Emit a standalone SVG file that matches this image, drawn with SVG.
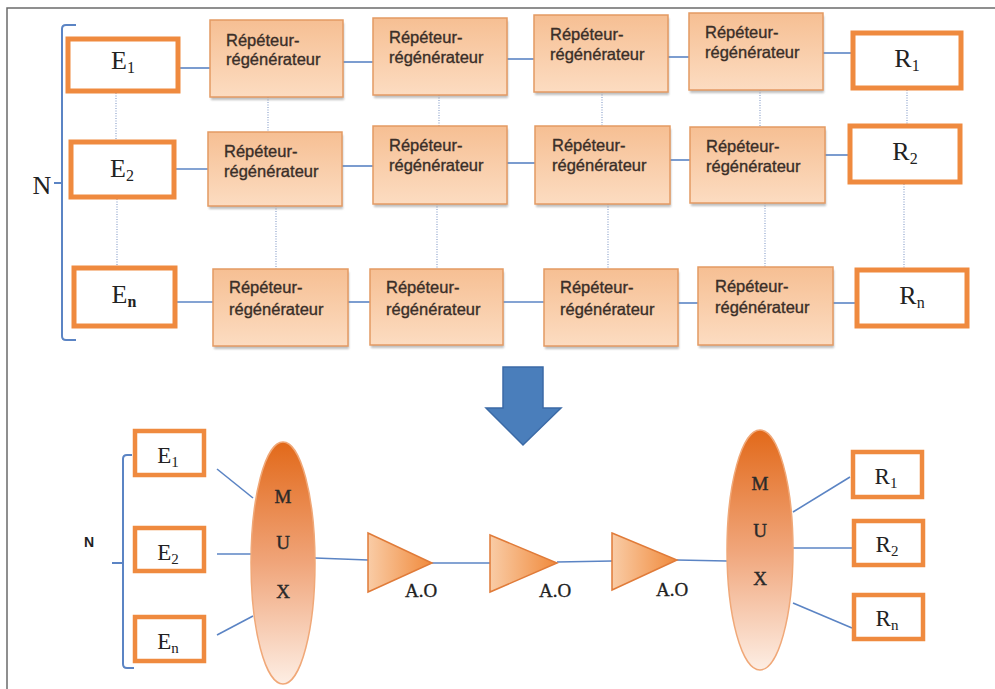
<svg xmlns="http://www.w3.org/2000/svg" width="995" height="689" viewBox="0 0 995 689">
<defs>
<linearGradient id="rg" x1="0" y1="0" x2="0" y2="1"><stop offset="0" stop-color="#f6bf93"/><stop offset="1" stop-color="#fcdcc1"/></linearGradient>
<linearGradient id="mg" x1="0" y1="0" x2="0" y2="1"><stop offset="0" stop-color="#e2691a"/><stop offset="0.5" stop-color="#f0a57a"/><stop offset="1" stop-color="#fdeee4"/></linearGradient>
<linearGradient id="tg" x1="0" y1="0" x2="1" y2="0"><stop offset="0" stop-color="#f9cca6"/><stop offset="1" stop-color="#f08a3c"/></linearGradient>
<filter id="sh" x="-10%" y="-10%" width="130%" height="130%"><feGaussianBlur stdDeviation="1.2"/></filter>
<style>
.rr{fill:url(#rg);stroke:#e49a63;stroke-width:1.5}
.rs{fill:#8a8a8a;opacity:0.55;filter:url(#sh)}
.rt{font-family:"Liberation Sans",Arial,sans-serif;font-size:16.5px;fill:#3a2e28;stroke:#3a2e28;stroke-width:0.35}
.box{fill:#fff;stroke:#ef8a3f;stroke-width:5}
.sbox{fill:#fff;stroke:#ef8a3f;stroke-width:4.5}
.lt{font-family:"Liberation Serif","Times New Roman",serif;font-size:26px;fill:#222;text-anchor:middle}
.slt{font-family:"Liberation Serif","Times New Roman",serif;font-size:23px;fill:#222;text-anchor:middle}
.mx{font-family:"Liberation Serif","Times New Roman",serif;font-size:19px;fill:#2a2a2a;stroke:#2a2a2a;stroke-width:0.4;text-anchor:middle}
.ao{font-family:"Liberation Serif","Times New Roman",serif;font-size:19px;fill:#222;stroke:#222;stroke-width:0.3}
.ln{stroke:#5b84c4;stroke-width:1.6;fill:none}
.dt{stroke:#8ea3cc;stroke-width:1.2;stroke-dasharray:1 1.5;fill:none}
.br{stroke:#5b84c4;stroke-width:2;fill:none}
.tri{fill:url(#tg);stroke:#e07b39;stroke-width:1.5}
</style>
</defs>
<rect x="0" y="0" width="995" height="689" fill="#fff"/>
<path d="M7,689 V8 H995" fill="none" stroke="#6b6b6b" stroke-width="1.5"/>

<g id="connectors">
<line class="ln" x1="180" y1="68" x2="210" y2="68"/>
<line class="ln" x1="343" y1="62" x2="373" y2="62"/>
<line class="ln" x1="507" y1="59" x2="534" y2="59"/>
<line class="ln" x1="668" y1="57" x2="689" y2="57"/>
<line class="ln" x1="823" y1="53" x2="851" y2="53"/>
<line class="ln" x1="175" y1="169" x2="208" y2="169"/>
<line class="ln" x1="342" y1="166" x2="373" y2="166"/>
<line class="ln" x1="507" y1="163" x2="535" y2="163"/>
<line class="ln" x1="670" y1="160" x2="690" y2="160"/>
<line class="ln" x1="825" y1="155" x2="848" y2="155"/>
<line class="ln" x1="177" y1="302" x2="213" y2="302"/>
<line class="ln" x1="348" y1="302" x2="370" y2="302"/>
<line class="ln" x1="503" y1="302" x2="544" y2="302"/>
<line class="ln" x1="678" y1="303" x2="698" y2="303"/>
<line class="ln" x1="833" y1="303" x2="855" y2="303"/>
<line class="dt" x1="116" y1="93" x2="116" y2="140"/>
<line class="dt" x1="117" y1="199" x2="117" y2="266"/>
<line class="dt" x1="268" y1="97" x2="268" y2="132"/>
<line class="dt" x1="276" y1="206" x2="276" y2="269"/>
<line class="dt" x1="439" y1="95" x2="439" y2="126"/>
<line class="dt" x1="437" y1="204" x2="437" y2="269"/>
<line class="dt" x1="602" y1="92" x2="602" y2="126"/>
<line class="dt" x1="608" y1="204" x2="608" y2="269"/>
<line class="dt" x1="760" y1="90" x2="760" y2="127"/>
<line class="dt" x1="765" y1="203" x2="765" y2="267"/>
<line class="dt" x1="907" y1="90" x2="907" y2="124"/>
<line class="dt" x1="904" y1="184" x2="904" y2="268"/>
<path class="br" d="M76,25 H66 Q62,25 62,29 V336 Q62,340 66,340 H76 M62,183 H54"/>
<path class="br" d="M132,455 H127 Q123,455 123,459 V664 Q123,668 127,668 H134 M123,563 H112"/>
<line class="ln" x1="217" y1="469" x2="253" y2="498"/>
<line class="ln" x1="217" y1="554" x2="253" y2="554"/>
<line class="ln" x1="217" y1="635" x2="253" y2="616"/>
<line class="ln" x1="315" y1="558" x2="368" y2="560"/>
<line class="ln" x1="432" y1="563" x2="490" y2="563"/>
<line class="ln" x1="557" y1="562" x2="612" y2="561"/>
<line class="ln" x1="677" y1="560" x2="727" y2="561"/>
<line class="ln" x1="793" y1="512" x2="850" y2="477"/>
<line class="ln" x1="793" y1="548" x2="852" y2="548"/>
<line class="ln" x1="793" y1="603" x2="852" y2="628"/>
</g>

<text x="42" y="194" class="lt" font-size="25">N</text>

<g id="E1"><rect class="box" x="68" y="39" width="110" height="52"/><text class="lt" x="123" y="69">E<tspan font-size="16" dy="4">1</tspan></text></g>
<g id="E2"><rect class="box" x="71" y="142" width="103" height="55"/><text class="lt" x="122" y="177">E<tspan font-size="16" dy="4">2</tspan></text></g>
<g id="En"><rect class="box" x="74" y="268" width="101" height="58"/><text class="lt" x="124" y="303">E<tspan font-size="16" dy="4" font-weight="bold">n</tspan></text></g>
<g id="R1"><rect class="box" x="853" y="33" width="108" height="55"/><text class="lt" x="907" y="67">R<tspan font-size="16" dy="4">1</tspan></text></g>
<g id="R2"><rect class="box" x="850" y="126" width="110" height="56"/><text class="lt" x="905" y="160">R<tspan font-size="16" dy="4">2</tspan></text></g>
<g id="Rn"><rect class="box" x="857" y="270" width="110" height="56"/><text class="lt" x="912" y="304">R<tspan font-size="16" dy="4">n</tspan></text></g>

<g id="RR11"><rect class="rs" x="211" y="23" width="133" height="77"/><rect class="rr" x="210" y="20" width="133" height="77"/><text class="rt" x="226" y="46">Répéteur-</text><text class="rt" x="226" y="65">régénérateur</text></g>
<g id="RR12"><rect class="rs" x="374" y="21" width="134" height="77"/><rect class="rr" x="373" y="18" width="134" height="77"/><text class="rt" x="389" y="43">Répéteur-</text><text class="rt" x="389" y="63">régénérateur</text></g>
<g id="RR13"><rect class="rs" x="535" y="18" width="134" height="77"/><rect class="rr" x="534" y="15" width="134" height="77"/><text class="rt" x="550" y="40">Répéteur-</text><text class="rt" x="550" y="60">régénérateur</text></g>
<g id="RR14"><rect class="rs" x="690" y="16" width="134" height="77"/><rect class="rr" x="689" y="13" width="134" height="77"/><text class="rt" x="705" y="38">Répéteur-</text><text class="rt" x="705" y="58">régénérateur</text></g>

<g id="RR21"><rect class="rs" x="209" y="135" width="134" height="74"/><rect class="rr" x="208" y="132" width="134" height="74"/><text class="rt" x="224" y="157">Répéteur-</text><text class="rt" x="224" y="177">régénérateur</text></g>
<g id="RR22"><rect class="rs" x="374" y="129" width="134" height="78"/><rect class="rr" x="373" y="126" width="134" height="78"/><text class="rt" x="389" y="151">Répéteur-</text><text class="rt" x="389" y="171">régénérateur</text></g>
<g id="RR23"><rect class="rs" x="536" y="129" width="135" height="78"/><rect class="rr" x="535" y="126" width="135" height="78"/><text class="rt" x="552" y="151">Répéteur-</text><text class="rt" x="552" y="171">régénérateur</text></g>
<g id="RR24"><rect class="rs" x="691" y="130" width="135" height="76"/><rect class="rr" x="690" y="127" width="135" height="76"/><text class="rt" x="706" y="152">Répéteur-</text><text class="rt" x="706" y="172">régénérateur</text></g>

<g id="RR31"><rect class="rs" x="214" y="272" width="135" height="77"/><rect class="rr" x="213" y="269" width="135" height="77"/><text class="rt" x="229" y="293">Répéteur-</text><text class="rt" x="229" y="315">régénérateur</text></g>
<g id="RR32"><rect class="rs" x="371" y="272" width="133" height="76"/><rect class="rr" x="370" y="269" width="133" height="76"/><text class="rt" x="386" y="293">Répéteur-</text><text class="rt" x="386" y="315">régénérateur</text></g>
<g id="RR33"><rect class="rs" x="545" y="272" width="134" height="77"/><rect class="rr" x="544" y="269" width="134" height="77"/><text class="rt" x="560" y="293">Répéteur-</text><text class="rt" x="560" y="315">régénérateur</text></g>
<g id="RR34"><rect class="rs" x="699" y="270" width="135" height="78"/><rect class="rr" x="698" y="267" width="135" height="78" stroke="#d98a50" stroke-width="2"/><text class="rt" x="715" y="292">Répéteur-</text><text class="rt" x="715" y="313">régénérateur</text></g>

<g id="arrow"><path d="M503,367 H543 V408 H561 L523,445 L486,408 H503 Z" fill="#4a7ebb" stroke="#3b6aa6" stroke-width="1.5"/></g>

<text x="89" y="547" font-family="'Liberation Sans',Arial,sans-serif" font-size="14" font-weight="bold" fill="#222" text-anchor="middle">N</text>

<g id="bE1"><rect class="sbox" x="135" y="431" width="69" height="44"/><text class="slt" x="168" y="463">E<tspan font-size="15" dy="4">1</tspan></text></g>
<g id="bE2"><rect class="sbox" x="135" y="528" width="69" height="43"/><text class="slt" x="168" y="560">E<tspan font-size="15" dy="4">2</tspan></text></g>
<g id="bEn"><rect class="sbox" x="135" y="617" width="69" height="44"/><text class="slt" x="168" y="649">E<tspan font-size="15" dy="4">n</tspan></text></g>

<g id="MUX1"><ellipse cx="283" cy="563" rx="32" ry="121" fill="url(#mg)" stroke="#f0a878" stroke-width="1.5"/><text class="mx" x="283" y="503">M</text><text class="mx" x="283" y="549">U</text><text class="mx" x="283" y="598">X</text></g>

<g id="AO1"><polygon class="tri" points="368,533 432,563 368,592"/><text class="ao" x="405" y="597">A.O</text></g>
<g id="AO2"><polygon class="tri" points="490,535 557,563 490,592"/><text class="ao" x="539" y="597">A.O</text></g>
<g id="AO3"><polygon class="tri" points="612,533 677,560 612,590"/><text class="ao" x="656" y="596">A.O</text></g>

<g id="MUX2"><ellipse cx="760" cy="550" rx="33" ry="120" fill="url(#mg)" stroke="#f0a878" stroke-width="1.5"/><text class="mx" x="760" y="490">M</text><text class="mx" x="760" y="537">U</text><text class="mx" x="760" y="585">X</text></g>

<g id="bR1"><rect class="sbox" x="853" y="452" width="69" height="45"/><text class="slt" x="886" y="484">R<tspan font-size="15" dy="4">1</tspan></text></g>
<g id="bR2"><rect class="sbox" x="854" y="521" width="69" height="44"/><text class="slt" x="887" y="552">R<tspan font-size="15" dy="4">2</tspan></text></g>
<g id="bRn"><rect class="sbox" x="854" y="595" width="69" height="44"/><text class="slt" x="887" y="626">R<tspan font-size="15" dy="4">n</tspan></text></g>
</svg>
